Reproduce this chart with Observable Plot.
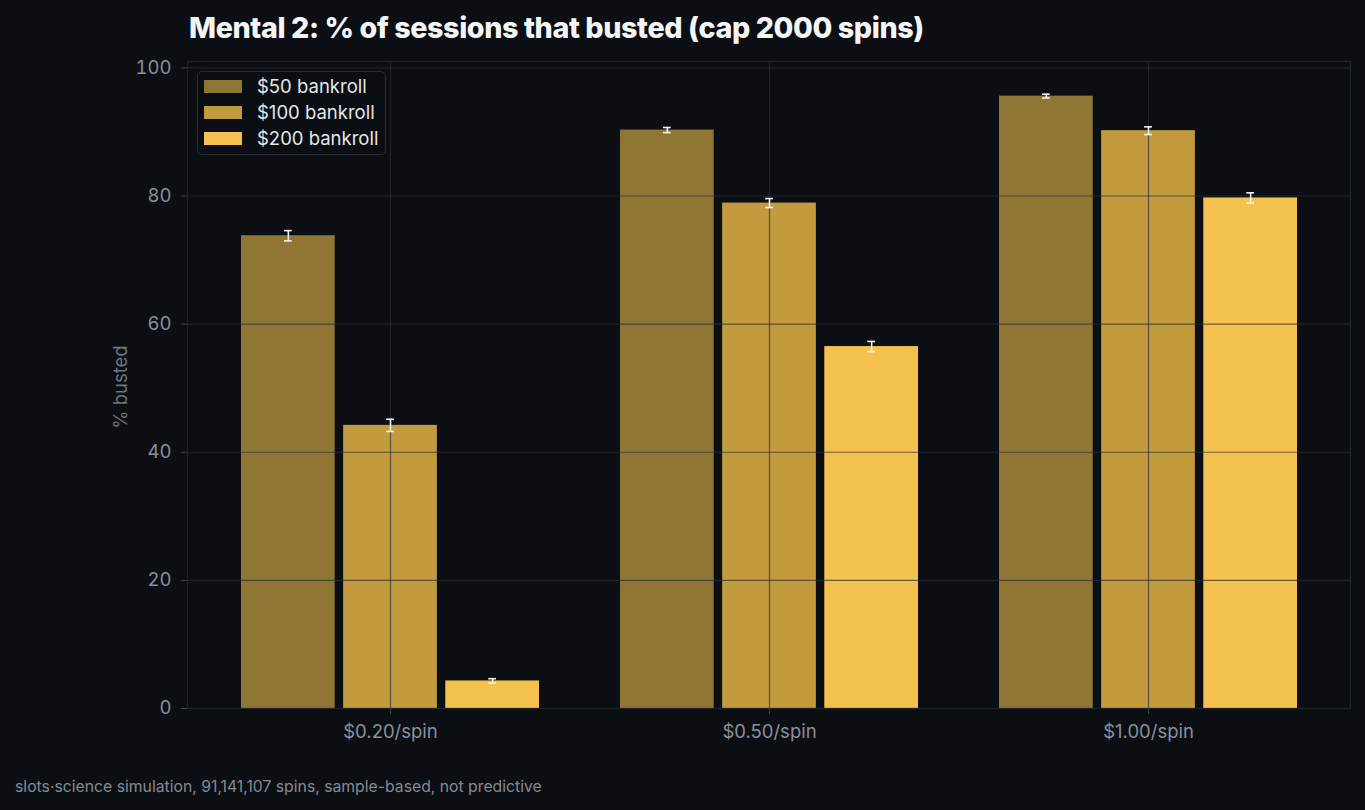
<!DOCTYPE html>
<html>
<head>
<meta charset="utf-8">
<script src="https://cdn.jsdelivr.net/npm/d3@7"></script>
<script src="https://cdn.jsdelivr.net/npm/@observablehq/plot@0.6"></script>
<style>
  html, body { margin: 0; padding: 0; background: #0b0e13; }
  #wrap { position: relative; width: 1365px; height: 810px; background: #0b0e13; font-family: Inter, "Noto Sans", sans-serif; }
  #title { height: 50px; box-sizing: border-box; padding: 11px 0 0 189px; font-size: 28.7px; line-height: 34px; font-weight: 800; color: #f4f5f7; letter-spacing: -0.4px; }
  #caption { height: 50px; box-sizing: border-box; padding: 18px 0 0 15px; font-size: 15.75px; line-height: 18px; color: #848b94; }
  #legend { position: absolute; left: 197px; top: 71px; width: 189px; height: 84px; box-sizing: border-box; border: 1.5px solid #272c34; border-radius: 5px; background: rgba(11,14,19,0.92); padding: 1px 0 0 6px; }
  .row { display: flex; align-items: center; height: 26px; }
  .sw { width: 38px; height: 13px; margin-right: 15px; }
  .lab { font-size: 18.5px; color: #e4e6ea; }
</style>
</head>
<body>
<div id="wrap">
  <div id="title">Mental 2: % of sessions that busted (cap 2000 spins)</div>
  <div id="chart"></div>
  <div id="caption">slots·science simulation, 91,141,107 spins, sample-based, not predictive</div>
  <div id="legend"></div>
</div>
<script>
// Bet sizes (x groups) and bankroll sizes (bars within a group)
const rates = ["$0.20/spin", "$0.50/spin", "$1.00/spin"];
const bankrolls = ["$50 bankroll", "$100 bankroll", "$200 bankroll"];
const colors = ["#8f7634", "#c29b3e", "#f4c14e"];

// % of sessions busted, per bet size, for each bankroll
const busted50 = [73.8, 90.3, 95.6];
const busted100 = [44.2, 78.9, 90.2];
const busted200 = [4.3, 56.5, 79.7];

// Half-width of the confidence interval, in percentage points
const err50 = [0.8, 0.4, 0.3];
const err100 = [0.95, 0.7, 0.6];
const err200 = [0.35, 0.8, 0.8];

const yTicks = [0, 20, 40, 60, 80, 100];

const series = [busted50, busted100, busted200];
const errors = [err50, err100, err200];
const rows = bankrolls.flatMap((b, i) =>
  rates.map((r, j) => ({ rate: r, bankroll: b, pct: series[i][j], err: errors[i][j] }))
);

// Geometry of the grouped bars
const W = 1365, H = 710, mL = 187, mR = 15, mT = 11, mB = 52;
const padIn = 0.215, padOut = 0.138;
const step = (W - mL - mR) / (rates.length - padIn + 2 * padOut);
const groupW = step * (1 - padIn);               // band width of one bet-size group
const barGap = 0.08;
const barStep = groupW / (bankrolls.length - barGap);
const barW = barStep * (1 - barGap);
const barInset = (groupW - barW) / 2;
const capW = 8;
const capInset = (groupW - capW) / 2;

const gridStyle = { stroke: "#292d34", strokeOpacity: 0.68, strokeWidth: 1.2 };
const axisFont = 18.5;

const marks = [];
bankrolls.forEach((b, i) => {
  const data = rows.filter(d => d.bankroll === b);
  const dx = (i - 1) * barStep;
  marks.push(Plot.barY(data, {
    x: "rate", y: "pct", fill: "bankroll", dx,
    insetLeft: barInset, insetRight: barInset
  }));
});
// grid drawn over the bars
marks.push(Plot.gridY({ ticks: yTicks, ...gridStyle }));
marks.push(Plot.gridX({ ...gridStyle }));
marks.push(Plot.frame({ stroke: "#1f242b", strokeWidth: 1.3 }));
// error bars with caps
bankrolls.forEach((b, i) => {
  const data = rows.filter(d => d.bankroll === b);
  const dx = (i - 1) * barStep;
  marks.push(Plot.ruleX(data, {
    x: "rate", y1: d => d.pct - d.err, y2: d => d.pct + d.err,
    dx, stroke: "#f2f2f2", strokeWidth: 1.6
  }));
  marks.push(Plot.tickY(data, {
    x: "rate", y: d => d.pct - d.err, dx, stroke: "#f2f2f2", strokeWidth: 1.6,
    insetLeft: capInset, insetRight: capInset
  }));
  marks.push(Plot.tickY(data, {
    x: "rate", y: d => d.pct + d.err, dx, stroke: "#f2f2f2", strokeWidth: 1.6,
    insetLeft: capInset, insetRight: capInset
  }));
});
marks.push(Plot.axisY({
  ticks: yTicks, tickSize: 6, tickPadding: 10, label: null,
  stroke: "#3f444c", fill: "#8a9099", fontSize: axisFont
}));
marks.push(Plot.axisX({
  tickSize: 6, tickPadding: 10, label: null,
  stroke: "#3f444c", fill: "#8a9099", fontSize: axisFont
}));
marks.push(Plot.text(["% busted"], {
  frameAnchor: "left", textAnchor: "middle", dx: -66, dy: 2, rotate: -90,
  fill: "#6f767f", fontSize: axisFont
}));

const chart = Plot.plot({
  width: W, height: H,
  marginLeft: mL, marginRight: mR, marginTop: mT, marginBottom: mB,
  style: { background: "transparent", color: "#8a9099", fontFamily: "Inter, 'Noto Sans', sans-serif", fontSize: "18.5px" },
  x: { domain: rates, paddingInner: padIn, paddingOuter: padOut },
  y: { domain: [0, 101] },
  color: { domain: bankrolls, range: colors },
  marks
});
document.getElementById("chart").appendChild(chart);

// Legend in the upper-left corner of the plot area
const legend = document.getElementById("legend");
bankrolls.forEach((b, i) => {
  const row = document.createElement("div");
  row.className = "row";
  const sw = document.createElement("div");
  sw.className = "sw";
  sw.style.background = colors[i];
  const lab = document.createElement("div");
  lab.className = "lab";
  lab.textContent = b;
  row.appendChild(sw);
  row.appendChild(lab);
  legend.appendChild(row);
});
</script>
</body>
</html>
